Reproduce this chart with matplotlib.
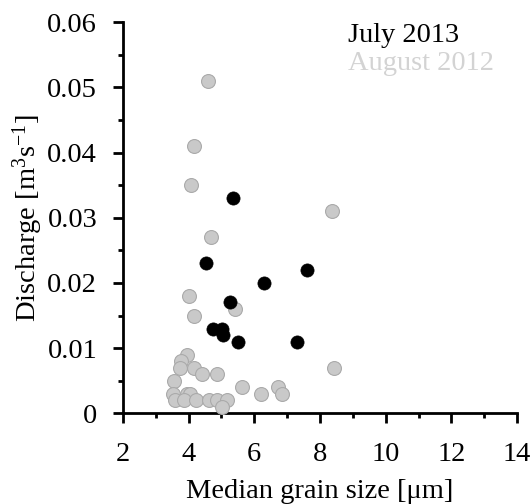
import matplotlib
matplotlib.use('Agg')
import matplotlib.pyplot as plt
from matplotlib.ticker import MultipleLocator

plt.rcParams['font.family'] = ['Liberation Serif', 'DejaVu Serif']
plt.rcParams['mathtext.fontset'] = 'custom'
plt.rcParams['mathtext.rm'] = 'Liberation Serif'
plt.rcParams['mathtext.it'] = 'Liberation Serif:italic'

# August 2012 samples: median grain size [um], discharge [m3/s]
aug_grain = [4.60, 4.16, 4.07, 8.38, 4.68, 8.44, 4.00, 4.16, 5.40,
             3.94, 3.78, 3.75, 4.16, 4.42, 4.85, 3.55, 5.64, 6.71,
             6.20, 6.83, 3.53, 3.96, 4.04, 3.60, 3.85, 4.24, 4.62,
             4.87, 5.18, 5.03]
aug_discharge = [0.051, 0.041, 0.035, 0.031, 0.027, 0.007, 0.018, 0.015, 0.016,
                 0.009, 0.008, 0.007, 0.007, 0.006, 0.006, 0.005, 0.004, 0.004,
                 0.003, 0.003, 0.003, 0.003, 0.003, 0.002, 0.002, 0.002, 0.002,
                 0.002, 0.002, 0.001]

# July 2013 samples
jul_grain = [5.36, 4.54, 7.61, 6.30, 5.26, 4.75, 5.02, 5.06, 5.50, 7.30]
jul_discharge = [0.033, 0.023, 0.022, 0.020, 0.017, 0.013, 0.013, 0.012, 0.011, 0.011]

x_ticks = [2, 4, 6, 8, 10, 12, 14]
y_ticks = [0, 0.01, 0.02, 0.03, 0.04, 0.05, 0.06]
y_tick_labels = ['0', '0.01', '0.02', '0.03', '0.04', '0.05', '0.06']

fig = plt.figure(figsize=(5.32, 5.04), dpi=100)
ax = fig.add_axes([0.231, 0.180, 0.741, 0.776])

ax.scatter(aug_grain, aug_discharge, s=100, c='#c9c9c9', edgecolors='#aaaaaa',
           linewidths=0.8, zorder=3, clip_on=False)
ax.scatter(jul_grain, jul_discharge, s=90, c='black', edgecolors='black',
           linewidths=0.5, zorder=4, clip_on=False)

ax.set_xlim(2, 14)
ax.set_ylim(0, 0.06)
ax.set_xticks(x_ticks)
ax.set_yticks(y_ticks)
ax.set_yticklabels(y_tick_labels)
ax.xaxis.set_minor_locator(MultipleLocator(1))
ax.yaxis.set_minor_locator(MultipleLocator(0.005))

for side in ['top', 'right']:
    ax.spines[side].set_visible(False)
for side in ['left', 'bottom']:
    ax.spines[side].set_linewidth(2.0)

ax.tick_params(which='major', direction='out', length=7.5, width=2.0,
               labelsize=20.5)
ax.tick_params(axis='y', which='major', pad=11)
ax.tick_params(axis='x', which='major', pad=13)
ax.tick_params(which='minor', direction='out', length=3.5, width=2.0)

ax.set_xlabel('Median grain size [\u03bcm]', fontsize=20.5, labelpad=9)
ax.set_ylabel(r'Discharge [m$^{\mathrm{3}}$s$^{\mathrm{-1}}$]', fontsize=20.5, labelpad=2)

ax.text(0.571, 0.967, 'July 2013', transform=ax.transAxes, fontsize=20.5,
        color='black', va='center', ha='left')
ax.text(0.571, 0.895, 'August 2012', transform=ax.transAxes, fontsize=20.5,
        color='#d3d3d3', va='center', ha='left')

fig.savefig('out.png', dpi=100)
